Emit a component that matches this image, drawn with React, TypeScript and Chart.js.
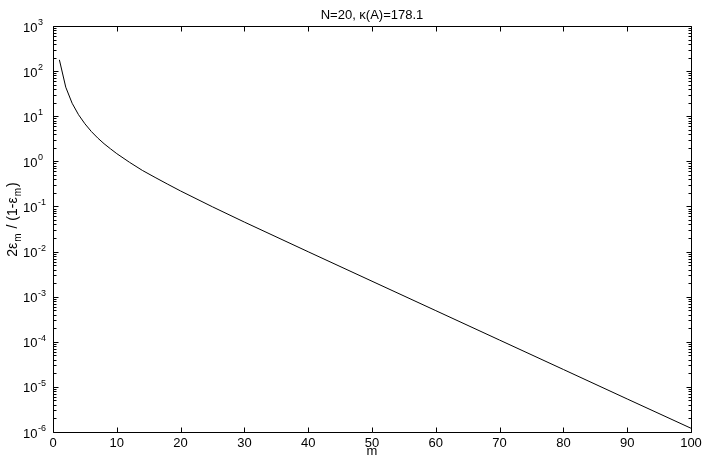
import React, { useEffect, useRef } from "react";
import { Chart, registerables } from "chart.js";

Chart.register(...registerables);

const TITLE = "N=20, κ(A)=178.1";
const X_LABEL = "m";
// y label pieces: [text, isSubscript]
const Y_LABEL_PARTS: [string, boolean][] = [
  ["2ε", false],
  ["m", true],
  [" / (1-ε", false],
  ["m", true],
  [")", false],
];

const M_VALUES = [1, 2, 3, 4, 5, 6, 7, 8, 9, 10, 12, 14, 16, 18, 20, 25, 30, 40, 50, 60, 70, 80, 90, 100];
const RATIO_VALUES = [
  178, 44, 19.4, 10.8, 6.8, 4.6, 3.3, 2.46, 1.9, 1.48, 0.95, 0.63, 0.44, 0.31, 0.22, 0.098, 0.045, 0.0099,
  0.0022, 4.9e-4, 1.09e-4, 2.43e-5, 5.4e-6, 1.21e-6,
];

const X_TICKS = [0, 10, 20, 30, 40, 50, 60, 70, 80, 90, 100];
const X_TICK_LABELS = ["0", "10", "20", "30", "40", "50", "60", "70", "80", "90", "100"];
const Y_TICK_EXPONENTS = [-6, -5, -4, -3, -2, -1, 0, 1, 2, 3];
const Y_TICK_BASE = "10";

const FONT = '"Liberation Sans", Arial, Helvetica, sans-serif';

const decorPlugin = {
  id: "matlabDecor",
  afterDraw(chart: any) {
    const { ctx, chartArea, scales } = chart;
    const { left, right, top, bottom } = chartArea;
    const xs = scales.x;
    const ys = scales.y;
    ctx.save();
    ctx.strokeStyle = "#000";
    ctx.fillStyle = "#000";
    ctx.lineWidth = 1;

    // box
    const L = Math.round(left) + 0.5;
    const R = Math.round(right) + 0.5;
    const T = Math.round(top) + 0.5;
    const B = Math.round(bottom) + 0.5;
    ctx.beginPath();
    ctx.rect(L, T, R - L, B - T);
    ctx.stroke();

    // x ticks
    ctx.beginPath();
    X_TICKS.forEach((v) => {
      const px = Math.round(xs.getPixelForValue(v)) + 0.5;
      ctx.moveTo(px, B);
      ctx.lineTo(px, B - 5);
      ctx.moveTo(px, T);
      ctx.lineTo(px, T + 5);
    });
    // y ticks (major + minor)
    Y_TICK_EXPONENTS.forEach((e) => {
      const py = Math.round(ys.getPixelForValue(Math.pow(10, e))) + 0.5;
      ctx.moveTo(L, py);
      ctx.lineTo(L + 5, py);
      ctx.moveTo(R, py);
      ctx.lineTo(R - 5, py);
      if (e < Y_TICK_EXPONENTS[Y_TICK_EXPONENTS.length - 1]) {
        for (let k = 2; k <= 9; k++) {
          const pm = Math.round(ys.getPixelForValue(k * Math.pow(10, e))) + 0.5;
          ctx.moveTo(L, pm);
          ctx.lineTo(L + 3, pm);
          ctx.moveTo(R, pm);
          ctx.lineTo(R - 3, pm);
        }
      }
    });
    ctx.stroke();

    // x tick labels
    ctx.font = `13px ${FONT}`;
    ctx.textAlign = "center";
    ctx.textBaseline = "alphabetic";
    X_TICKS.forEach((v, i) => {
      ctx.fillText(X_TICK_LABELS[i], xs.getPixelForValue(v), bottom + 15);
    });

    // x label
    ctx.fillText(X_LABEL, (left + right) / 2, bottom + 23);

    // title
    ctx.fillText(TITLE, (left + right) / 2, top - 7);

    // y tick labels with superscript exponent
    ctx.textAlign = "left";
    Y_TICK_EXPONENTS.forEach((e) => {
      const py = ys.getPixelForValue(Math.pow(10, e));
      ctx.font = `13px ${FONT}`;
      const w = ctx.measureText(Y_TICK_BASE).width;
      ctx.fillText(Y_TICK_BASE, 23, py + 5.5);
      ctx.font = `9px ${FONT}`;
      ctx.fillText(String(e), 23 + w + 0.5, py - 1);
    });

    // y label (rotated, with subscripts)
    const mainFont = `14px ${FONT}`;
    const subFont = `10px ${FONT}`;
    let total = 0;
    Y_LABEL_PARTS.forEach(([t, sub]) => {
      ctx.font = sub ? subFont : mainFont;
      total += ctx.measureText(t).width + 1;
    });
    ctx.translate(17, 219);
    ctx.rotate(-Math.PI / 2);
    let cx = -total / 2;
    Y_LABEL_PARTS.forEach(([t, sub]) => {
      ctx.font = sub ? subFont : mainFont;
      ctx.fillText(t, cx, sub ? 4 : 0);
      cx += ctx.measureText(t).width + 1;
    });

    ctx.restore();
  },
};

export default function App() {
  const ref = useRef<HTMLCanvasElement | null>(null);

  useEffect(() => {
    document.body.style.margin = "0";
    const canvas = ref.current;
    if (!canvas) return;
    const chart = new Chart(canvas, {
      type: "line",
      data: {
        datasets: [
          {
            data: M_VALUES.map((m, i) => ({ x: m, y: RATIO_VALUES[i] })),
            borderColor: "#000",
            borderWidth: 1,
            pointRadius: 0,
            tension: 0,
            fill: false,
          },
        ],
      },
      options: {
        animation: false,
        responsive: false,
        devicePixelRatio: 1,
        layout: { padding: { left: 53, right: 17, top: 26, bottom: 31 } },
        plugins: { legend: { display: false }, tooltip: { enabled: false }, title: { display: false } },
        scales: {
          x: { type: "linear", min: 0, max: 100, display: false },
          y: { type: "logarithmic", min: 1e-6, max: 1e3, display: false },
        },
      },
      plugins: [decorPlugin],
    });
    return () => chart.destroy();
  }, []);

  return (
    <div style={{ width: 708, height: 463, background: "#fff" }}>
      <canvas ref={ref} width={708} height={463} style={{ display: "block" }} />
    </div>
  );
}
